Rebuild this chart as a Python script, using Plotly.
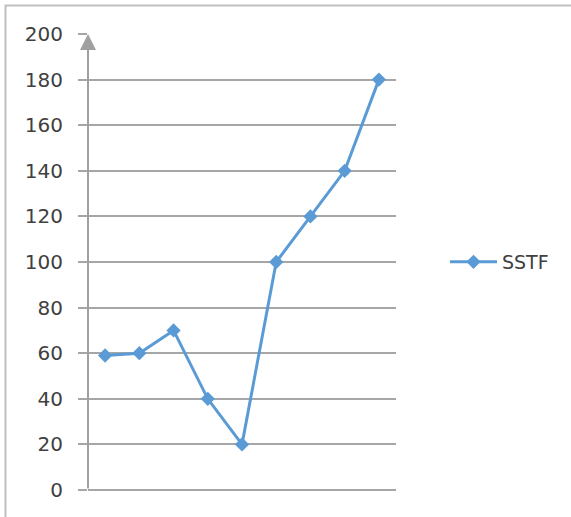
import plotly.graph_objects as go

# Request order and head positions for the SSTF schedule
steps = [1, 2, 3, 4, 5, 6, 7, 8, 9]
sstf = [59, 60, 70, 40, 20, 100, 120, 140, 180]
y_ticks = [0, 20, 40, 60, 80, 100, 120, 140, 160, 180, 200]

W, H = 571, 517
L, R, T, B = 88, 175, 34, 27
plot_w = W - L - R
grid = "#a6a6a6"

def px_to_paper_x(px):
    return (px - L) / plot_w

def px_to_paper_y(py):
    return (H - B - py) / (H - T - B)

fig = go.Figure()
fig.add_trace(go.Scatter(
    x=steps, y=sstf, name="SSTF", mode="lines+markers",
    line=dict(color="#5b9bd5", width=3),
    marker=dict(symbol="diamond", size=11, color="#5b9bd5"),
))

fig.update_layout(
    width=W, height=H, autosize=False,
    margin=dict(l=L, r=R, t=T, b=B),
    paper_bgcolor="white", plot_bgcolor="white",
    font=dict(family="DejaVu Sans", size=20, color="#404040"),
    showlegend=True,
    legend=dict(x=px_to_paper_x(445), y=0.5, xanchor="left", yanchor="middle",
                itemwidth=47,
                font=dict(size=19, color="#404040"), bgcolor="rgba(0,0,0,0)"),
    xaxis=dict(type="linear", range=[0.5, 9.5], showgrid=False, zeroline=False,
               showticklabels=False, ticks="", showline=False, fixedrange=True),
    yaxis=dict(range=[0, 200], tickvals=y_ticks, showgrid=True, gridcolor=grid,
               gridwidth=2, zeroline=True, zerolinecolor=grid, zerolinewidth=2,
               ticks="outside", ticklen=9,
               tickcolor=grid, tickwidth=2, ticklabelstandoff=11,
               showline=False, fixedrange=True),
)

# vertical value axis with an arrowhead at the top
fig.add_annotation(
    x=px_to_paper_x(88), xref="paper", y=200, yref="y",
    ax=0, ay=H - T - B, axref="pixel", ayref="pixel",
    showarrow=True, arrowhead=2, arrowsize=1.6, arrowwidth=2,
    arrowcolor="#a0a0a0", text="",
)

# outer chart frame
fig.add_shape(
    type="rect", xref="paper", yref="paper",
    x0=px_to_paper_x(5.5), x1=px_to_paper_x(600),
    y0=px_to_paper_y(600), y1=px_to_paper_y(5.5),
    line=dict(color="#bfbfbf", width=2), fillcolor="rgba(0,0,0,0)",
)

fig.write_html("out.html")
